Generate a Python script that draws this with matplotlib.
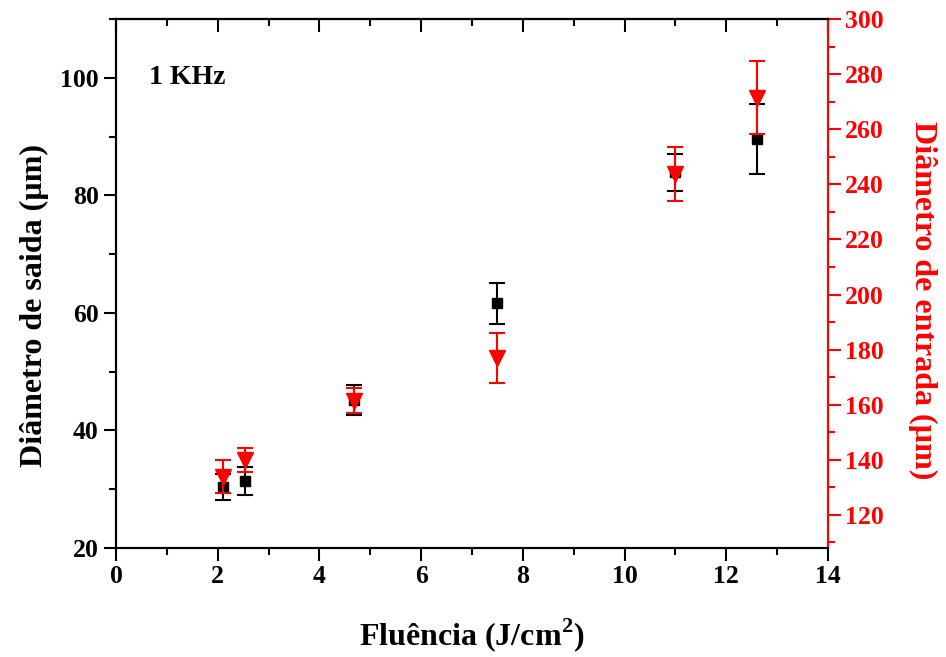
import matplotlib
matplotlib.use('Agg')
from matplotlib import pyplot as plt
from matplotlib.ticker import MultipleLocator

plt.rcParams['font.family'] = ['Liberation Serif', 'DejaVu Serif']
plt.rcParams['font.weight'] = 'bold'
plt.rcParams['mathtext.fontset'] = 'custom'
plt.rcParams['mathtext.rm'] = 'Liberation Serif:bold'
plt.rcParams['mathtext.bf'] = 'Liberation Serif:bold'

# fluence values (J/cm2)
fluence = [2.1, 2.54, 4.68, 7.5, 11.0, 12.6]
# exit diameter (left axis, um)
d_saida = [30.3, 31.4, 45.2, 61.6, 83.9, 89.6]
d_saida_err = [2.2, 2.4, 2.5, 3.5, 3.2, 5.9]
# entrance diameter (right axis, um)
d_entrada = [133.8, 140.0, 161.5, 177.0, 243.6, 271.5]
d_entrada_err = [6.0, 4.4, 4.4, 9.0, 9.8, 13.3]

fig = plt.figure(figsize=(9.46, 6.57), dpi=100)
ax = fig.add_axes([0.1226, 0.166, 0.7526, 0.805])
ax2 = ax.twinx()

ax.errorbar(fluence, d_saida, yerr=d_saida_err, fmt='s', color='black',
            ms=7, capsize=6, elinewidth=1.5, capthick=1.5, zorder=3)
ax2.errorbar(fluence, d_entrada, yerr=d_entrada_err, fmt='v', color='red',
             ms=11, capsize=6, elinewidth=1.5, capthick=1.5, zorder=4)

ax.set_xlim(0, 14)
ax.set_ylim(20, 110)
ax2.set_ylim(108, 300)

ax.xaxis.set_major_locator(MultipleLocator(2))
ax.xaxis.set_minor_locator(MultipleLocator(1))
ax.yaxis.set_major_locator(MultipleLocator(20))
ax.yaxis.set_minor_locator(MultipleLocator(10))
ax2.yaxis.set_major_locator(MultipleLocator(20))
ax2.yaxis.set_minor_locator(MultipleLocator(10))

ax.tick_params(axis='both', which='major', length=9, width=1.5, labelsize=18.5, direction='out')
ax.tick_params(axis='both', which='minor', length=5, width=1.5, direction='out')
ax.tick_params(axis='x', which='both', top=False)
ax2.tick_params(axis='y', which='major', length=9, width=1.5, labelsize=18.5, colors='red', direction='out')
ax2.tick_params(axis='y', which='minor', length=5, width=1.5, colors='red', direction='out')

# top ticks point inward
top = ax.secondary_xaxis('top')
top.xaxis.set_major_locator(MultipleLocator(2))
top.xaxis.set_minor_locator(MultipleLocator(1))
top.tick_params(which='major', direction='in', length=9, width=1.5, labeltop=False)
top.tick_params(which='minor', direction='in', length=5, width=1.5)
top.spines['top'].set_linewidth(1.5)

for s in ax.spines.values():
    s.set_linewidth(1.5)
for s in ax2.spines.values():
    s.set_linewidth(1.5)
ax2.spines['right'].set_color('red')

for lbl in ax.get_xticklabels() + ax.get_yticklabels() + ax2.get_yticklabels():
    lbl.set_fontweight('bold')

ax.set_xlabel('Fluência (J/cm$^{2}$)', fontsize=23, fontweight='bold', labelpad=20)
ax.set_ylabel('Diâmetro de saida (µm)', fontsize=23, fontweight='bold', labelpad=8)
ax.yaxis.label.set_y(0.459)
ax2.set_ylabel('Diâmetro de entrada (µm)', fontsize=23, fontweight='bold', color='red',
               rotation=270, labelpad=38)
ax2.yaxis.label.set_y(0.469)

ax.text(0.65, 100, '1 KHz', fontsize=20, fontweight='bold', va='center', ha='left')

fig.savefig('out.png', dpi=100)
